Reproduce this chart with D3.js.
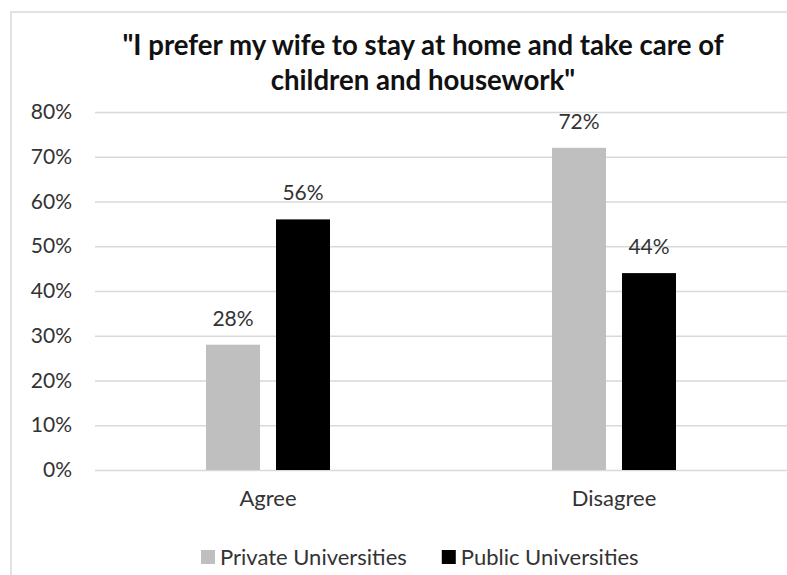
<!DOCTYPE html>
<html>
<head>
<meta charset="utf-8">
<script src="https://cdn.jsdelivr.net/npm/d3@7"></script>
<style>
  html, body { margin: 0; padding: 0; background: #fff; }
  svg { display: block; }
  text { font-family: Lato, "Open Sans", sans-serif; }
</style>
</head>
<body>
<svg id="chart" width="787" height="575"></svg>
<script>
// Survey answers by university type
const categories = ["Agree", "Disagree"];
const seriesNames = ["Private Universities", "Public Universities"];
const privateValues = [0.28, 0.72];
const publicValues = [0.56, 0.44];
const yTickValues = [0, 0.1, 0.2, 0.3, 0.4, 0.5, 0.6, 0.7, 0.8];
const titleLines = ["\"I prefer my wife to stay at home and take care of", "children and housework\""];

const seriesValues = [privateValues, publicValues];
const seriesColors = ["#bfbfbf", "#000000"];
const textColor = "#333333";

const W = 787, H = 575;
const plot = { left: 95, right: 787, top: 112, bottom: 470 };

const svg = d3.select("#chart");

// chart frame
svg.append("rect")
  .attr("x", 11).attr("y", 12)
  .attr("width", W + 20).attr("height", H + 20)
  .attr("fill", "#fff")
  .attr("stroke", "#d9d9d9")
  .attr("stroke-width", 1.5);

// title
svg.append("g").selectAll("text")
  .data(titleLines)
  .join("text")
  .attr("x", 423)
  .attr("y", (d, i) => 55 + i * 35)
  .attr("text-anchor", "middle")
  .attr("font-size", 27.6)
  .attr("font-weight", "bold")
  .attr("fill", "#111")
  .text(d => d);

const x = d3.scaleBand().domain(categories).range([plot.left, plot.right]).padding(0);
const xSub = d3.scaleBand().domain(seriesNames).range([-62, 62]).paddingInner(16 / 70).paddingOuter(0);
const y = d3.scaleLinear().domain([0, 0.8]).range([plot.bottom, plot.top]);

// horizontal gridlines with percent labels
const yAxis = d3.axisLeft(y)
  .tickValues(yTickValues)
  .tickFormat(d3.format(".0%"))
  .tickSize(-(plot.right - plot.left))
  .tickPadding(23);

const gy = svg.append("g")
  .attr("transform", `translate(${plot.left},0)`)
  .call(yAxis);
gy.select(".domain").remove();
gy.selectAll(".tick line").attr("stroke", "#d9d9d9").attr("stroke-width", 1.5);
gy.selectAll(".tick text")
  .attr("font-size", 21)
  .attr("fill", textColor)
  .attr("font-family", "Lato, sans-serif");

// bars
const rows = [];
categories.forEach((c, ci) => {
  seriesNames.forEach((s, si) => {
    rows.push({ category: c, series: s, value: seriesValues[si][ci], color: seriesColors[si] });
  });
});

const bars = svg.append("g");
bars.selectAll("rect")
  .data(rows)
  .join("rect")
  .attr("x", d => x(d.category) + x.bandwidth() / 2 + xSub(d.series))
  .attr("y", d => y(d.value))
  .attr("width", xSub.bandwidth())
  .attr("height", d => y(0) - y(d.value))
  .attr("fill", d => d.color);

// value labels above bars
bars.selectAll("text")
  .data(rows)
  .join("text")
  .attr("x", d => x(d.category) + x.bandwidth() / 2 + xSub(d.series) + xSub.bandwidth() / 2)
  .attr("y", d => y(d.value) - 19)
  .attr("text-anchor", "middle")
  .attr("font-size", 21)
  .attr("fill", textColor)
  .text(d => d3.format(".0%")(d.value));

// category axis labels
const xAxis = d3.axisBottom(x).tickSize(0).tickPadding(20);
const gx = svg.append("g")
  .attr("transform", `translate(0,${plot.bottom})`)
  .call(xAxis);
gx.select(".domain").remove();
gx.selectAll(".tick text")
  .attr("font-size", 22)
  .attr("fill", textColor)
  .attr("font-family", "Lato, sans-serif");

// legend
const legend = svg.append("g").attr("transform", "translate(0,557)");
let lx = 201;
seriesNames.forEach((name, i) => {
  legend.append("rect")
    .attr("x", lx).attr("y", -7)
    .attr("width", 14).attr("height", 14)
    .attr("fill", seriesColors[i]);
  const t = legend.append("text")
    .attr("x", lx + 19)
    .attr("y", 8)
    .attr("font-size", 22)
    .attr("fill", textColor)
    .text(name);
  lx += 19 + t.node().getComputedTextLength() + 35;
});
</script>
</body>
</html>
